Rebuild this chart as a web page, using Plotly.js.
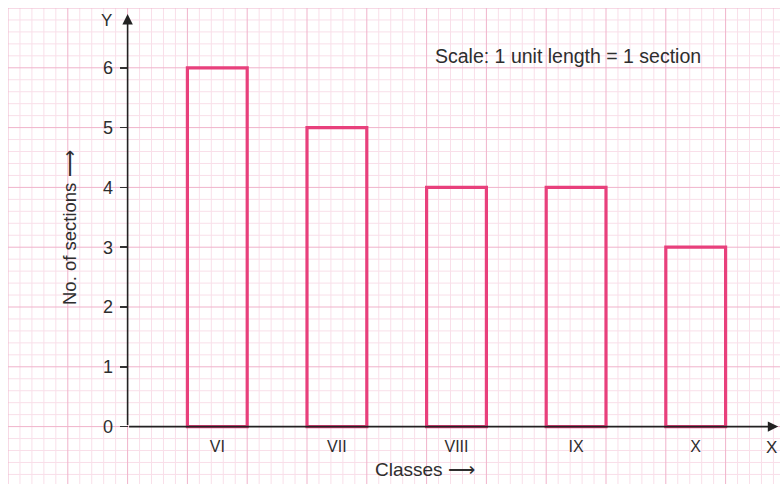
<!DOCTYPE html>
<html><head><meta charset="utf-8">
<script src="https://cdn.plot.ly/plotly-3.0.1.min.js"></script>
<style>html,body{margin:0;padding:0;background:#fff}#c{width:780px;height:488px}</style>
</head><body><div id="c"></div>
<script>
const classes = ["VI", "VII", "VIII", "IX", "X"];
const sections = [6, 5, 4, 4, 3];
const classPos = [1.5, 3.5, 5.5, 7.5, 9.5];
const yTicks = [0, 1, 2, 3, 4, 5, 6];

const xr = [-2, -2 + 772 / 59.8];
const yr = [7 - 476 / 59.8, 7];
const pink = "#e8407c";
const font = "Liberation Sans, Arial, sans-serif";
const txt = "#2e2e2e";

const data = [
  {type: "bar", x: classPos, y: sections, width: 1,
   marker: {color: "rgba(0,0,0,0)", line: {color: pink, width: 3.2}}, hoverinfo: "skip"}
];

// graph-paper grid as background shapes (every 0.2 unit, heavier every unit)
const shapes = [];
function gridLines(lo, hi, vertical) {
  for (let k = Math.ceil(lo * 5); k <= Math.floor(hi * 5); k++) {
    const v = k / 5, major = k % 5 === 0;
    const line = {color: major ? "#f0b3cb" : "#f9dfe9", width: 1};
    shapes.push(vertical
      ? {type: "line", layer: "below", xref: "x", yref: "paper", x0: v, x1: v, y0: 0, y1: 1, line: line}
      : {type: "line", layer: "below", xref: "paper", yref: "y", x0: 0, x1: 1, y0: v, y1: v, line: line});
  }
}
gridLines(xr[0], xr[1], true);
gridLines(yr[0], yr[1], false);
// keep major lines on top of minor lines
shapes.sort((a, b) => (a.line.color === "#f0b3cb") - (b.line.color === "#f0b3cb"));

function lab(px, py, text, size, extra) {
  return Object.assign({xref: "paper", yref: "paper", x: (px - 8) / 772, y: 1 - (py - 8) / 476,
    xanchor: "center", yanchor: "middle", text: text, showarrow: false,
    font: {size: size, color: txt}}, extra || {});
}

const layout = {
  width: 780, height: 488,
  margin: {l: 8, r: 0, t: 8, b: 4},
  paper_bgcolor: "#ffffff", plot_bgcolor: "#ffffff",
  showlegend: false,
  font: {family: font, color: txt},
  shapes: shapes,
  xaxis: {range: xr, anchor: "free", position: (0 - yr[0]) / (yr[1] - yr[0]),
    tickmode: "array", tickvals: classPos, ticktext: classes, showgrid: false,
    zeroline: false, showline: false, ticks: "", ticklabelstandoff: 8,
    tickfont: {size: 16, color: txt}},
  yaxis: {range: yr, anchor: "free", position: (0 - xr[0]) / (xr[1] - xr[0]),
    tickmode: "array", tickvals: yTicks, showgrid: false, zeroline: false, showline: false,
    ticks: "outside", ticklen: 8, tickwidth: 1.5, tickcolor: "#333", ticklabelstandoff: 3,
    tickfont: {size: 18, color: txt}},
  annotations: [
    {xref: "x", yref: "y", axref: "x", ayref: "y", x: 0, y: 6.9, ax: 0, ay: 0,
     text: "", showarrow: true, arrowhead: 2, arrowsize: 1.3, arrowwidth: 1.6, arrowcolor: "#222"},
    {xref: "x", yref: "y", axref: "x", ayref: "y", x: 10.88, y: 0, ax: 0, ay: 0,
     text: "", showarrow: true, arrowhead: 2, arrowsize: 1.3, arrowwidth: 1.6, arrowcolor: "#222"},
    lab(106, 20, "Y", 17),
    lab(771, 447, "X", 17),
    lab(568, 56, "Scale: 1 unit length = 1 section", 19.5),
    lab(425, 469, "Classes ⟶", 19),
    lab(69, 228, "No. of sections ⟶", 18.5, {textangle: -90})
  ]
};

Plotly.newPlot("c", data, layout, {staticPlot: true});
</script></body></html>
